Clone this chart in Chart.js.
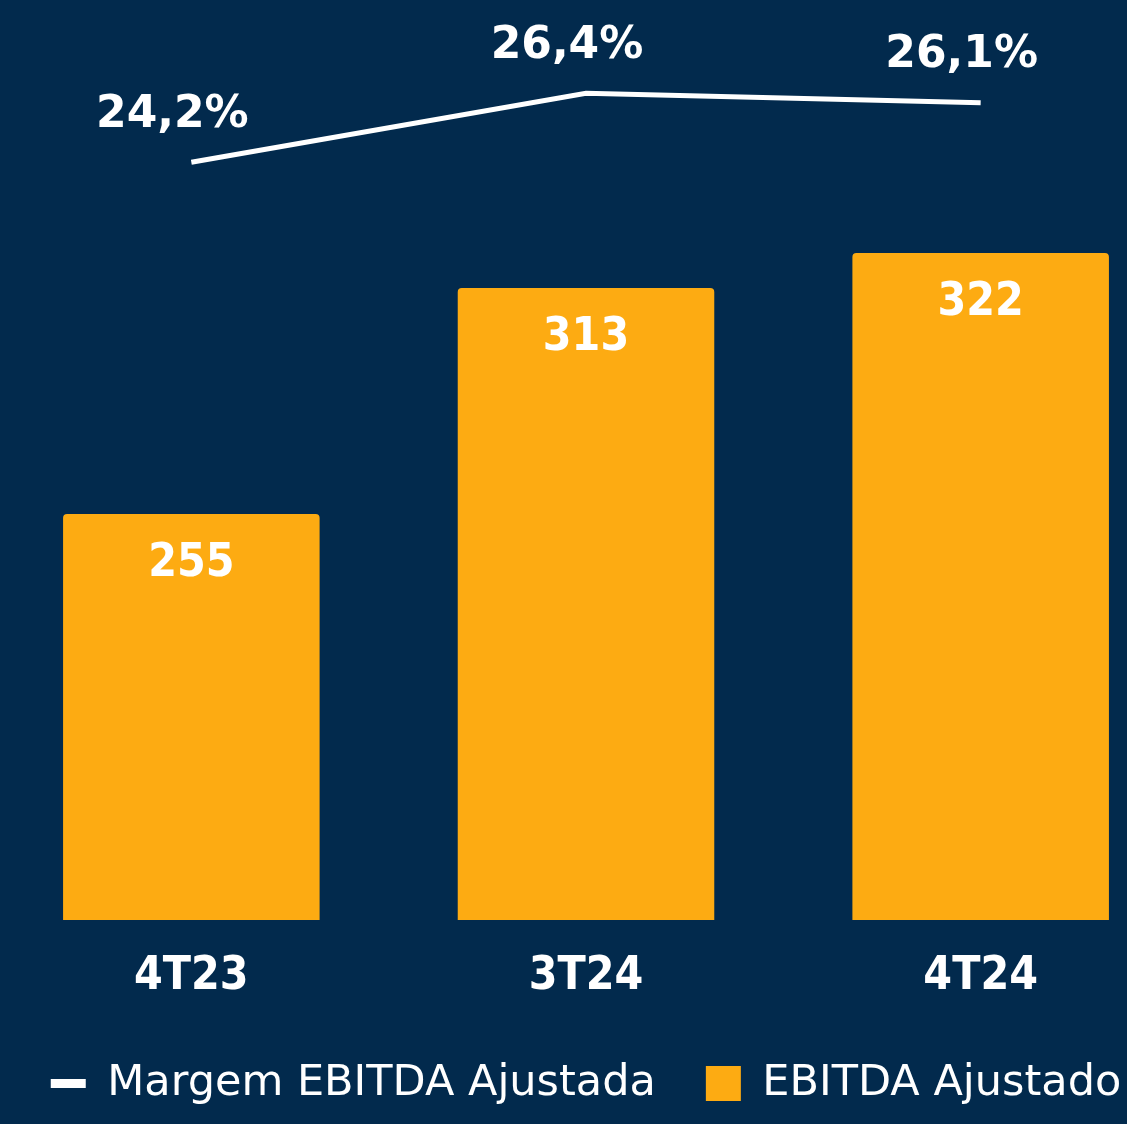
<!DOCTYPE html>
<html>
<head>
<meta charset="utf-8">
<script src="https://cdn.jsdelivr.net/npm/chart.js@4/dist/chart.umd.min.js"></script>
<style>
    html, body { margin: 0; padding: 0; background: #022a4d; overflow: hidden; }
    #wrap { position: absolute; left: -6px; top: 0; width: 1184px; height: 1115px; }
</style>
</head>
<body>
<div id="wrap"><canvas id="myChart"></canvas></div>
<script>
const categories = ['4T23', '3T24', '4T24'];
const ebitdaValues = [255, 313, 322];
const margemValues = [24.2, 26.4, 26.1];
const margemLabels = ['24,2%', '26,4%', '26,1%'];

const navy = '#022a4d';
const orange = '#fdab12';
const boldFamily = "'DejaVu Sans Condensed', 'DejaVu Sans', sans-serif";

// draws the value labels (no datalabels plugin available offline)
const valueLabels = {
    id: 'valueLabels',
    afterDatasetsDraw(chart) {
        const ctx = chart.ctx;
        ctx.save();
        ctx.fillStyle = '#ffffff';
        ctx.textAlign = 'center';
        ctx.textBaseline = 'middle';

        ctx.font = "bold 44px 'DejaVu Sans', sans-serif";
        chart.getDatasetMeta(0).data.forEach((pt, i) => {
            ctx.fillText(margemLabels[i], pt.x - 19, pt.y - 47);
        });
        ctx.font = 'bold 46px ' + boldFamily;
        chart.getDatasetMeta(1).data.forEach((bar, i) => {
            ctx.fillText(String(ebitdaValues[i]), bar.x, bar.y + 50);
        });
        ctx.restore();
    }
};

const ctx = document.getElementById('myChart').getContext('2d');

const myChart = new Chart(ctx, {
    data: {
        labels: categories,
        datasets: [
            {
                type: 'line',
                label: 'Margem EBITDA Ajustada',
                data: margemValues,
                yAxisID: 'y1',
                borderColor: '#ffffff',
                backgroundColor: '#ffffff',
                borderWidth: 5,
                pointRadius: 0,
                pointStyle: 'line',
                tension: 0
            },
            {
                type: 'bar',
                label: 'EBITDA Ajustado',
                data: ebitdaValues,
                yAxisID: 'y',
                backgroundColor: orange,
                borderWidth: 0,
                borderRadius: 4,
                pointStyle: 'rect',
                categoryPercentage: 1,
                barPercentage: 0.65
            }
        ]
    },
    options: {
        responsive: true,
        maintainAspectRatio: false,
        animation: false,
        layout: { padding: 0 },
        plugins: {
            tooltip: { enabled: false },
            legend: {
                position: 'bottom',
                labels: {
                    color: '#ffffff',
                    usePointStyle: true,
                    pointStyleWidth: 35,
                    boxHeight: 35,
                    padding: 50,
                    font: { family: "'DejaVu Sans', sans-serif", size: 43 },
                    generateLabels(chart) {
                        const items = Chart.defaults.plugins.legend.labels.generateLabels(chart);
                        items[0].lineWidth = 9;
                        items[1].lineWidth = 0;
                        return items;
                    }
                }
            }
        },
        scales: {
            x: {
                grid: { display: false, drawTicks: false },
                border: { display: false },
                ticks: {
                    color: '#ffffff',
                    padding: 29,
                    font: { family: boldFamily, weight: 'bold', size: 46 }
                },
                afterFit(scale) { scale.height = 92; }
            },
            y: {
                display: false,
                min: 150.8,
                max: 386.9
            },
            y1: {
                display: false,
                position: 'right',
                min: 0,
                max: 29.38
            }
        }
    },
    plugins: [valueLabels]
});
</script>
</body>
</html>
